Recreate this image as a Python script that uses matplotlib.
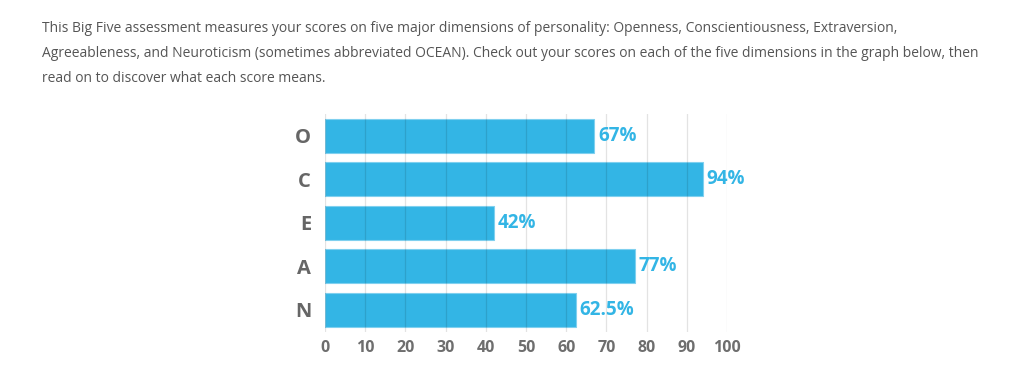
import matplotlib
matplotlib.use("Agg")
import matplotlib.pyplot as plt

categories = ["O", "C", "E", "A", "N"]
scores = [67, 94, 42, 77, 62.5]
value_labels = ["67%", "94%", "42%", "77%", "62.5%"]
xticks = [0, 10, 20, 30, 40, 50, 60, 70, 80, 90, 100]

intro_lines = [
    "This Big Five assessment measures your scores on five major dimensions of personality: Openness, Conscientiousness, Extraversion,",
    "Agreeableness, and Neuroticism (sometimes abbreviated OCEAN). Check out your scores on each of the five dimensions in the graph below, then",
    "read on to discover what each score means.",
]

plt.rcParams['font.family'] = ['Open Sans', 'DejaVu Sans']

fig = plt.figure(figsize=(10.24, 3.78), dpi=100)
fig.patch.set_facecolor("white")

for i, line in enumerate(intro_lines):
    fig.text(42/1024, 1 - (27 + 24.5*i)/378, line, ha="left", va="center_baseline",
             fontsize=10, color="#555555")

ax = fig.add_axes([325/1024, 1 - 331.5/378, 402/1024, 217.5/378])
ypos = list(range(len(categories)))
bar_color = "#33B5E5"
ax.barh(ypos, scores, height=0.78, color=bar_color, edgecolor="#7fd0ef",
        linewidth=0.8, zorder=2)
for y, v, lab in zip(ypos, scores, value_labels):
    ax.text(v + 0.9, y, lab, ha="left", va="center", fontsize=13.5,
            fontweight="bold", color=bar_color, zorder=4)

ax.set_xlim(0, 100)
ax.set_ylim(4.5, -0.5)
ax.set_xticks(xticks)
ax.set_yticks(ypos)
ax.set_yticklabels(categories, fontsize=14.5, fontweight="bold", color="#666666")
ax.tick_params(axis="x", labelsize=11.5, colors="#6e6e6e", length=0, pad=6)
ax.tick_params(axis="y", length=0, pad=10)
for lbl in ax.get_xticklabels():
    lbl.set_fontweight("bold")
for x in xticks:
    ax.axvline(x, color="#000000", alpha=0.11, linewidth=0.9, zorder=3)
for s in ax.spines.values():
    s.set_visible(False)
ax.set_facecolor("none")

fig.savefig("out.png", dpi=100, facecolor="white")
